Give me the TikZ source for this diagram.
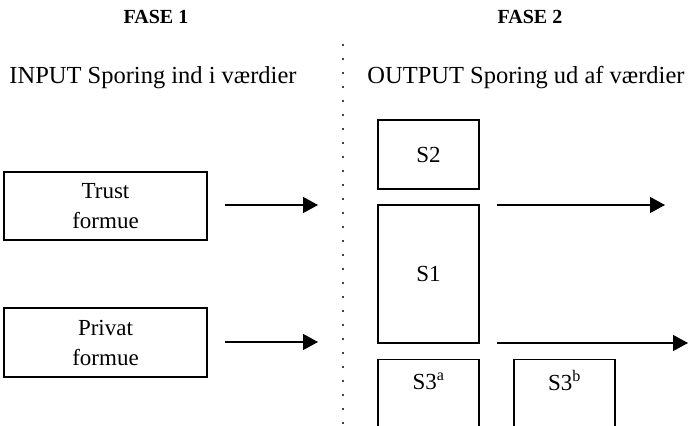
\documentclass[tikz,border=0pt]{standalone}
\usepackage{fontspec}
\setmainfont{Liberation Serif}
\usetikzlibrary{arrows.meta}

\begin{document}
\begin{tikzpicture}[x=1pt,y=-1pt]
                \tikzstyle{felt}=[draw, line width=1.3pt, inner sep=0pt, align=center, font=\fontsize{23}{30}\selectfont]
                \tikzstyle{pil}=[line width=1.3pt,-{Triangle[length=15pt,width=16pt]}]
                \tikzstyle{overskrift}=[font=\fontsize{24.5}{28}\selectfont]
                \tikzstyle{fase}=[font=\bfseries\fontsize{20}{24}\selectfont]
                \tikzstyle{tekst}=[font=\fontsize{23}{26}\selectfont]

                \useasboundingbox (0,0) rectangle (689,426);
                \clip (0,0) rectangle (689,426);

                \node[fase] (fase1) at (156,17) {FASE 1};
                \node[fase] (fase2) at (530,17) {FASE 2};
                \node[overskrift] (input) at (153,78) {INPUT Sporing ind i værdier};
                \node[overskrift] (output) at (526,78) {OUTPUT Sporing ud af værdier};

                % skillelinje
                \coordinate (skilletop) at (343,45);
                \coordinate (skillebund) at (343,430);
                \draw[line width=2.2pt, line cap=round, dash pattern=on 0pt off 14pt] (skilletop) -- (skillebund);

                % fase 1
                \node[felt, minimum width=203, minimum height=68] (trust) at (105.5,206) {Trust\\formue};
                \node[felt, minimum width=203, minimum height=69] (privat) at (105.5,342.5) {Privat\\formue};

                % fase 2
                \node[felt, minimum width=101, minimum height=69] (s2) at (428.5,154.5) {S2};
                \node[felt, minimum width=101, minimum height=138] (s1) at (428.5,274) {S1};
                \node[felt, minimum width=101, minimum height=100, anchor=north] (s3a) at (428.5,359) {};
                \node[felt, minimum width=101, minimum height=100, anchor=north] (s3b) at (564.5,359) {};
                \node[tekst] (s3atekst) at (428.5,381) {S3\textsuperscript{a}};
                \node[tekst] (s3btekst) at (564.5,381) {S3\textsuperscript{b}};

                \coordinate (A) at (225,205);
                \coordinate (B) at (318,205);
                \coordinate (C) at (225,342);
                \coordinate (D) at (318,342);
                \coordinate (E) at (497,205);
                \coordinate (F) at (665,205);
                \coordinate (G) at (497,343);
                \coordinate (H) at (688,343);

                \draw[pil] (A) -- (B);
                \draw[pil] (C) -- (D);
                \draw[pil] (E) -- (F);
                \draw[pil] (G) -- (H);
\end{tikzpicture}
\end{document}
